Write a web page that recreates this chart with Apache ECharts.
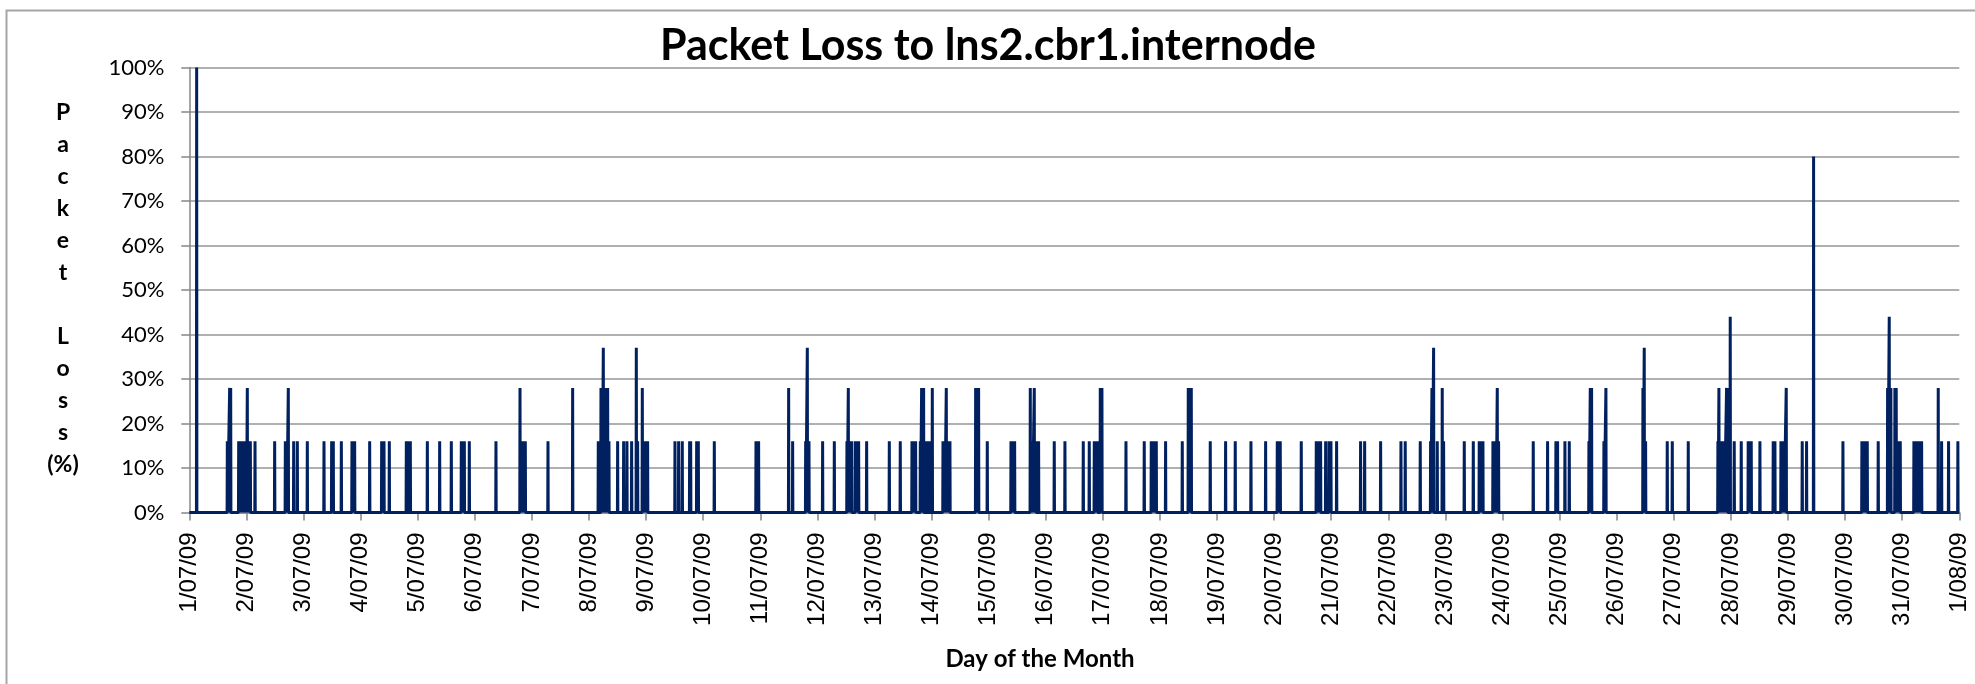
<!DOCTYPE html>
<html>
<head>
<meta charset="utf-8">
<title>Packet Loss to lns2.cbr1.internode</title>
<script src="https://cdn.jsdelivr.net/npm/echarts@6/dist/echarts.min.js"></script>
<style>
  html, body { margin: 0; padding: 0; background: #fff; }
  #chart { width: 1975px; height: 684px; }
</style>
</head>
<body>
<div id="chart"></div>
<script>
// tick labels, one per day
const dayLabels = [
  "1/07/09", "2/07/09", "3/07/09", "4/07/09", "5/07/09", "6/07/09", "7/07/09", "8/07/09",
  "9/07/09", "10/07/09", "11/07/09", "12/07/09", "13/07/09", "14/07/09", "15/07/09", "16/07/09",
  "17/07/09", "18/07/09", "19/07/09", "20/07/09", "21/07/09", "22/07/09", "23/07/09", "24/07/09",
  "25/07/09", "26/07/09", "27/07/09", "28/07/09", "29/07/09", "30/07/09", "31/07/09", "1/08/09"
];

// loss spikes: time in days since 1/07/09 00:00, loss in %
const spikeDays = [
  0.129, 0.666, 0.707, 0.725, 0.865, 0.888, 0.923, 0.946, 0.975, 0.999, 1.016, 1.040, 1.069, 1.151,
  1.495, 1.682, 1.705, 1.734, 1.828, 1.892, 2.067, 2.359, 2.493, 2.522, 2.663, 2.849, 2.873, 2.896,
  3.159, 3.369, 3.392, 3.410, 3.503, 3.801, 3.818, 3.871, 4.169, 4.385, 4.589, 4.764, 4.788, 4.817,
  4.904, 5.371, 5.792, 5.826, 5.850, 5.885, 6.282, 6.714, 7.163, 7.210, 7.228, 7.251, 7.274, 7.303,
  7.327, 7.350, 7.502, 7.607, 7.665, 7.747, 7.829, 7.852, 7.934, 7.951, 7.993, 8.027, 8.506, 8.570,
  8.634, 8.763, 8.781, 8.886, 8.915, 9.195, 9.925, 9.971, 10.497, 10.567, 10.795, 10.824, 10.853,
  11.092, 11.297, 11.518, 11.542, 11.571, 11.600, 11.664, 11.694, 11.723, 11.863, 12.260, 12.452,
  12.657, 12.686, 12.721, 12.803, 12.826, 12.861, 12.914, 12.960, 13.013, 13.200, 13.229, 13.258,
  13.287, 13.322, 13.772, 13.795, 13.824, 13.976, 14.391, 14.420, 14.455, 14.729, 14.764, 14.799,
  14.828, 14.875, 15.149, 15.336, 15.657, 15.762, 15.850, 15.879, 15.908, 15.955, 15.984, 16.405,
  16.725, 16.848, 16.877, 16.901, 16.936, 17.099, 17.391, 17.496, 17.520, 17.549, 17.881, 18.150,
  18.319, 18.594, 18.851, 19.055, 19.084, 19.107, 19.475, 19.738, 19.762, 19.790, 19.814, 19.902,
  19.960, 19.995, 20.094, 20.514, 20.585, 20.865, 21.221, 21.296, 21.559, 21.740, 21.764, 21.793,
  21.857, 21.944, 21.968, 22.330, 22.488, 22.592, 22.627, 22.657, 22.832, 22.855, 22.884, 22.908,
  22.931, 23.538, 23.789, 23.935, 23.964, 24.093, 24.169, 24.513, 24.537, 24.560, 24.776, 24.811,
  25.459, 25.482, 25.506, 25.885, 25.973, 26.253, 26.772, 26.790, 26.819, 26.854, 26.883, 26.924,
  26.942, 26.988, 27.058, 27.181, 27.303, 27.333, 27.356, 27.508, 27.741, 27.771, 27.876, 27.905,
  27.928, 27.969, 28.249, 28.325, 28.448, 28.962, 29.294, 29.323, 29.353, 29.388, 29.580, 29.744,
  29.773, 29.802, 29.872, 29.895, 29.936, 29.966, 30.205, 30.228, 30.257, 30.287, 30.316, 30.340,
  30.631, 30.690, 30.812, 30.975
];
const spikeLoss = [
  100, 16, 28, 28, 16, 16, 16, 16, 16, 16, 28, 16, 16, 16,
  16, 16, 16, 28, 16, 16, 16, 16, 16, 16, 16, 16, 16, 16,
  16, 16, 16, 16, 16, 16, 16, 16, 16, 16, 16, 16, 16, 16,
  16, 16, 28, 16, 16, 16, 16, 28, 16, 28, 28, 37, 28, 16,
  28, 16, 16, 16, 16, 16, 37, 16, 28, 16, 16, 16, 16, 16,
  16, 16, 16, 16, 16, 16, 16, 16, 28, 16, 16, 37, 16,
  16, 16, 16, 28, 16, 16, 16, 16, 16, 16, 16, 16,
  16, 16, 16, 16, 28, 28, 16, 16, 28, 16, 16, 28,
  16, 16, 28, 28, 28, 16, 16, 16, 16, 28, 16, 28,
  16, 16, 16, 16, 16, 16, 16, 16, 16, 28, 28, 16,
  16, 16, 16, 16, 16, 16, 16, 28, 28, 28, 16, 16,
  16, 16, 16, 16, 16, 16, 16, 16, 16, 16, 16, 16,
  16, 16, 16, 16, 16, 16, 16, 16, 16, 16, 28, 37,
  16, 28, 16, 16, 16, 16, 16, 16, 16, 16, 16, 28,
  16, 16, 16, 16, 16, 16, 16, 16, 28, 28, 16, 28,
  28, 37, 16, 16, 16, 16, 16, 28, 16, 16, 16, 28,
  28, 44, 16, 16, 16, 16, 16, 16, 16, 16, 16, 16,
  16, 28, 16, 16, 80, 16, 16, 16, 16, 16, 16, 28,
  44, 28, 28, 28, 16, 16, 16, 16, 16, 16, 16, 16,
  28, 16, 16, 16
];
const yTicks = [0, 10, 20, 30, 40, 50, 60, 70, 80, 90, 100];

// one sample either side of each spike is back at 0
const halfStep = 0.004;
function buildLine() {
  const pts = [[0, 0]];
  for (let i = 0; i < spikeDays.length; i++) {
    pts.push([spikeDays[i] - halfStep, 0]);
    pts.push([spikeDays[i], spikeLoss[i]]);
    pts.push([spikeDays[i] + halfStep, 0]);
  }
  pts.push([dayLabels.length - 1, 0]);
  return pts;
}

const chart = echarts.init(document.getElementById("chart"));
const option = {
  animation: false,
  backgroundColor: "#fff",
  grid: { left: 189.3, right: 15.7, top: 67.5, bottom: 171.5 },
  graphic: [
    {
      type: "rect",
      shape: { x: 6.5, y: 10.5, width: 2000, height: 720 },
      style: { fill: "none", stroke: "#a6a6a6", lineWidth: 2 }
    },
    {
      type: "text",
      x: 988, y: 46,
      style: {
        text: "Packet Loss to lns2.cbr1.internode",
        font: "bold 43px Lato", fill: "#000",
        textAlign: "center", textVerticalAlign: "middle"
      }
    },
    {
      type: "text",
      x: 63, y: 289,
      style: {
        text: "P\na\nc\nk\ne\nt\n\nL\no\ns\ns\n(%)",
        font: "bold 23px Lato", fill: "#000", lineHeight: 32,
        textAlign: "center", textVerticalAlign: "middle"
      }
    },
    {
      type: "text",
      x: 1040, y: 659,
      style: {
        text: "Day of the Month",
        font: "bold 24px Lato", fill: "#000",
        textAlign: "center", textVerticalAlign: "middle"
      }
    }
  ],
  xAxis: {
    type: "value",
    min: 0,
    max: dayLabels.length - 1,
    interval: 1,
    axisLine: { show: true, onZero: false, lineStyle: { color: "#868686", width: 1.5 } },
    axisTick: { show: true, length: 8, lineStyle: { color: "#868686", width: 1.5 } },
    splitLine: { show: false },
    axisLabel: {
      rotate: 90,
      margin: 20,
      color: "#000",
      fontFamily: "Liberation Sans",
      fontSize: 24,
      formatter: (v) => dayLabels[Math.round(v)]
    }
  },
  yAxis: {
    type: "value",
    min: yTicks[0],
    max: yTicks[yTicks.length - 1],
    interval: 10,
    axisLine: { show: true, lineStyle: { color: "#868686", width: 1.5 } },
    axisTick: { show: true, length: 8, lineStyle: { color: "#868686", width: 1.5 } },
    splitLine: { show: true, lineStyle: { color: "#969696", width: 1.5 } },
    axisLabel: {
      margin: 25,
      color: "#000",
      fontFamily: "Lato",
      fontSize: 22,
      formatter: (v) => v + "%"
    }
  },
  series: [
    {
      type: "line",
      data: buildLine(),
      showSymbol: false,
      sampling: null,
      lineStyle: { color: "#002060", width: 3, join: "bevel" },
      z: 3
    }
  ]
};
chart.setOption(option);
</script>
</body>
</html>
